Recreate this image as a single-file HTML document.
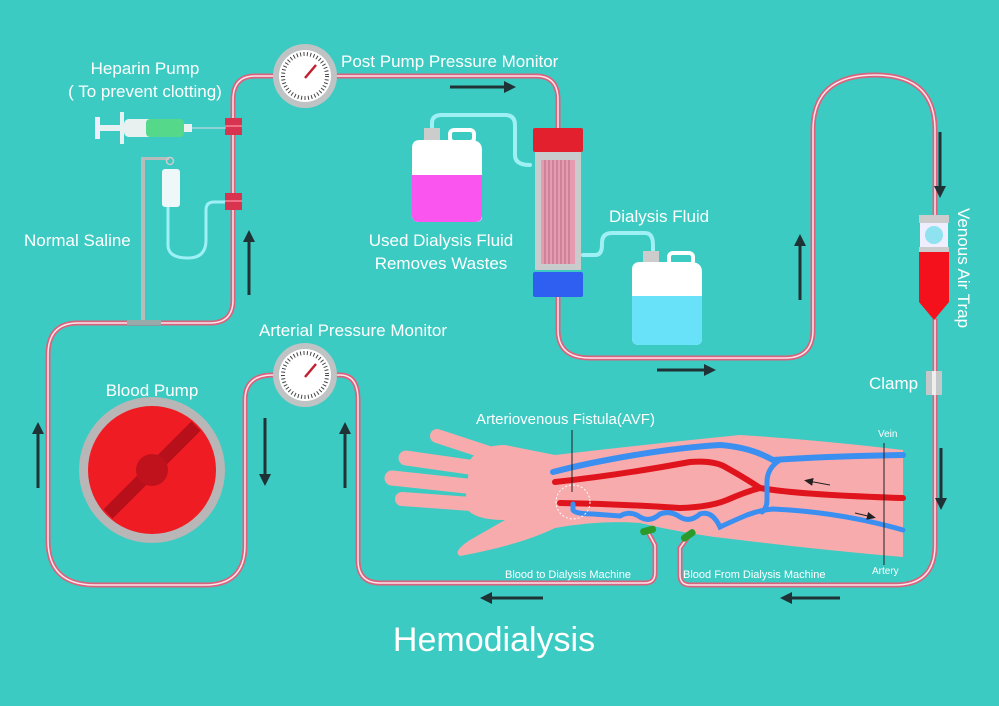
<!DOCTYPE html>
<html><head><meta charset="utf-8"><style>
body{margin:0;background:#3ccbc3;}
svg{display:block}
text{font-family:"Liberation Sans",sans-serif;fill:#fff}
</style></head><body>
<svg width="999" height="706" viewBox="0 0 999 706" xmlns="http://www.w3.org/2000/svg">
<rect width="999" height="706" fill="#3ccbc3"/>
<defs>
<marker id="ah" markerWidth="14" markerHeight="14" refX="6" refY="6" orient="auto" markerUnits="userSpaceOnUse"><path d="M0,0 L12,6 L0,12z" fill="#1f3236"/></marker>
<marker id="sa" markerWidth="10" markerHeight="10" refX="5" refY="4" orient="auto" markerUnits="userSpaceOnUse"><path d="M0,0 L9,4 L0,8z" fill="#222"/></marker>
</defs>
<!-- tubes -->
<g fill="none" stroke-linecap="round">
<g stroke="#d9637d" stroke-width="5">
<path d="M274,76 H255 Q233,76 233,100 V300 Q233,323 210,323 H78 Q48,323 48,355 V540 Q48,585 95,585 H205 Q245,585 245,545 V400 Q245,375 273,375"/>
<path d="M337,76 H536 Q558,76 558,100 V128"/>
<path d="M558,297 V330 Q558,358 590,358 H785 Q813,358 813,330 V130 Q813,75 875,75 Q935,75 935,130 V215"/>
<path d="M935,320 V545 Q935,585 895,585 H690 Q680,585 680,575 V548 L688,537"/>
<path d="M337,375 H340 Q358,375 358,400 V560 Q358,583 380,583 H645 Q655,583 655,573 V545 L649,534"/>
</g>
<g stroke="#fbe6ec" stroke-width="1.5">
<path d="M274,76 H255 Q233,76 233,100 V300 Q233,323 210,323 H78 Q48,323 48,355 V540 Q48,585 95,585 H205 Q245,585 245,545 V400 Q245,375 273,375"/>
<path d="M337,76 H536 Q558,76 558,100 V128"/>
<path d="M558,297 V330 Q558,358 590,358 H785 Q813,358 813,330 V130 Q813,75 875,75 Q935,75 935,130 V215"/>
<path d="M935,320 V545 Q935,585 895,585 H690 Q680,585 680,575 V548 L688,537"/>
<path d="M337,375 H340 Q358,375 358,400 V560 Q358,583 380,583 H645 Q655,583 655,573 V545 L649,534"/>
</g>
<path d="M432,130 V123 Q432,115 442,115 H505 Q515,115 515,125 V155 Q515,165 530,165" stroke="#9ff0f5" stroke-width="4"/>
<path d="M583,255 H595 Q602,255 602,245 V243 Q602,233 612,233 H645 Q653,233 653,245 V252" stroke="#9ff0f5" stroke-width="4"/>
<path d="M168,208 V245 Q168,258 188,258 Q206,258 206,240 V210 Q206,202 214,202 H233" stroke="#9ff0f5" stroke-width="3"/>
</g>
<rect x="225" y="118" width="17" height="17" fill="#d8344f"/><rect x="225" y="193" width="17" height="17" fill="#d8344f"/>
<rect x="225" y="125" width="17" height="2" fill="#f07088"/><rect x="225" y="200" width="17" height="2" fill="#f07088"/>
<!-- saline stand -->
<rect x="141" y="157" width="4" height="166" fill="#b8bcbc"/>
<rect x="141" y="157" width="28" height="3" fill="#b8bcbc"/>
<circle cx="170" cy="161" r="3.5" fill="none" stroke="#ccc" stroke-width="1.5"/>
<rect x="162" y="169" width="18" height="38" rx="3" fill="#eef8f8"/>
<rect x="127" y="320" width="34" height="5" fill="#9aa"/>
<!-- syringe -->
<rect x="95" y="117" width="5" height="22" fill="#eef"/>
<rect x="100" y="125" width="22" height="6" fill="#e6f2f2"/>
<rect x="120" y="112" width="4" height="32" fill="#e6f2f2"/>
<rect x="124" y="119" width="60" height="18" rx="5" fill="#e8f0f0"/>
<rect x="146" y="119" width="38" height="18" rx="4" fill="#55d88a"/>
<rect x="184" y="124" width="8" height="8" fill="#e8f0f0"/>
<line x1="192" y1="128" x2="226" y2="128" stroke="#dde" stroke-width="1"/>
<!-- gauges -->
<circle cx="305" cy="76" r="32" fill="#bfc3c3"/><circle cx="305" cy="76" r="26" fill="#fff"/>
<circle cx="305" cy="76" r="22" fill="none" stroke="#444" stroke-width="4" stroke-dasharray="1,2.4"/>
<line x1="305" y1="78" x2="316" y2="65" stroke="#c02030" stroke-width="2.5"/>
<circle cx="305" cy="375" r="32" fill="#bfc3c3"/><circle cx="305" cy="375" r="26" fill="#fff"/>
<circle cx="305" cy="375" r="22" fill="none" stroke="#444" stroke-width="4" stroke-dasharray="1,2.4"/>
<line x1="305" y1="377" x2="316" y2="364" stroke="#c02030" stroke-width="2.5"/>
<!-- dialyzer -->
<rect x="535" y="150" width="46" height="120" fill="#c8cccc"/>
<rect x="541" y="160" width="34" height="104" fill="#e59cb0"/>
<g stroke="#b86a85" stroke-width="1">
<line x1="545" y1="160" x2="545" y2="264"/><line x1="549" y1="160" x2="549" y2="264"/><line x1="553" y1="160" x2="553" y2="264"/><line x1="557" y1="160" x2="557" y2="264"/><line x1="561" y1="160" x2="561" y2="264"/><line x1="565" y1="160" x2="565" y2="264"/><line x1="569" y1="160" x2="569" y2="264"/>
</g>
<rect x="533" y="128" width="50" height="24" rx="2" fill="#e3202e"/>
<rect x="533" y="272" width="50" height="25" rx="2" fill="#2f5ff0"/>
<!-- jugs -->
<rect x="424" y="128" width="16" height="12" fill="#ccc"/>
<path d="M412,148 Q412,140 420,140 H470 Q482,140 482,150 V217 Q482,222 475,222 H419 Q412,222 412,215Z" fill="#fff"/>
<rect x="450" y="130" width="24" height="12" rx="4" fill="none" stroke="#fff" stroke-width="4"/>
<path d="M412,175 H482 V215 Q482,222 475,222 H419 Q412,222 412,215Z" fill="#fb55f0"/>
<rect x="643" y="251" width="16" height="12" fill="#ccc"/>
<path d="M632,270 Q632,262 640,262 H690 Q702,262 702,272 V339 Q702,345 695,345 H639 Q632,345 632,338Z" fill="#fff"/>
<rect x="669" y="253" width="24" height="12" rx="4" fill="none" stroke="#fff" stroke-width="4"/>
<path d="M632,296 H702 V339 Q702,345 695,345 H639 Q632,345 632,338Z" fill="#68e2f8"/>
<!-- air trap -->
<rect x="919" y="215" width="30" height="8" fill="#ccc"/>
<rect x="920" y="223" width="28" height="24" fill="#eef"/>
<circle cx="934" cy="235" r="9" fill="#8fe3f0"/>
<rect x="919" y="247" width="30" height="5" fill="#ccc"/>
<path d="M919,252 H949 V302 L934,320 L919,302Z" fill="#f5111c"/>
<rect x="926" y="371" width="16" height="24" fill="#c4c8c8"/><rect x="932" y="371" width="4" height="24" fill="#eee"/>
<!-- blood pump -->
<circle cx="152" cy="470" r="73" fill="#b8b6b6"/>
<circle cx="152" cy="470" r="64" fill="#ef1c24"/>
<line x1="108" y1="514" x2="196" y2="426" stroke="#b8101a" stroke-width="13"/>
<circle cx="152" cy="470" r="16" fill="#c0121c"/>
<!-- arm -->
<g fill="#f8abac">
<path d="M903,450 Q820,440 740,435 Q640,445 555,455 L505,445 Q480,445 470,460 L465,505 Q470,520 505,520 L470,540 Q452,552 460,556 Q520,545 555,528 Q600,520 640,523 Q690,535 740,540 Q820,550 903,557Z"/>
</g>
<g stroke="#f8abac" stroke-linecap="round" fill="none">
<line x1="437" y1="436" x2="495" y2="455" stroke-width="14"/>
<line x1="406" y1="458" x2="490" y2="470" stroke-width="15"/>
<line x1="392" y1="478" x2="485" y2="488" stroke-width="15"/>
<line x1="402" y1="499" x2="485" y2="505" stroke-width="14"/>
</g>
<g fill="none" stroke-linecap="round">
<path d="M553,472 Q580,465 607,460 Q670,448 720,445 Q750,447 773,460 Q830,456 903,455" stroke="#3b8ff0" stroke-width="6"/>
<path d="M555,482 Q620,475 690,462 Q715,460 727,468 Q745,478 760,488 Q800,495 903,498" stroke="#e0141c" stroke-width="6"/>
<path d="M560,503 Q620,504 680,508 Q710,507 727,500 Q745,492 760,488" stroke="#e0141c" stroke-width="6"/>
<path d="M780,460 Q767,468 767,482 V500 Q767,508 762,512" stroke="#3b8ff0" stroke-width="5"/>
<path d="M573,504 V510 Q575,514 593,514 L620,516 Q630,510 640,517 Q650,523 660,514 Q670,510 680,517 Q690,523 700,514 Q712,510 720,527 Q735,520 747,515 Q760,510 773,509 Q840,512 903,530" stroke="#3b8ff0" stroke-width="5"/>
</g>
<circle cx="573" cy="502" r="17" fill="none" stroke="#fff" stroke-width="1" stroke-dasharray="2,2"/>
<line x1="572" y1="430" x2="572" y2="492" stroke="#222" stroke-width="1"/>
<line x1="884" y1="443" x2="884" y2="565" stroke="#222" stroke-width="1"/>
<rect x="640" y="527" width="16" height="7" rx="3" fill="#2a9a2a" transform="rotate(-15 648 530)"/>
<rect x="680" y="532" width="16" height="7" rx="3" fill="#2a9a2a" transform="rotate(-35 688 535)"/>
<line x1="830" y1="485" x2="808" y2="481" stroke="#222" stroke-width="1" marker-end="url(#sa)"/>
<line x1="855" y1="513" x2="872" y2="517" stroke="#222" stroke-width="1" marker-end="url(#sa)"/>
<!-- arrows -->
<g stroke="#1f3236" stroke-width="3" marker-end="url(#ah)">
<line x1="450" y1="87" x2="510" y2="87"/>
<line x1="249" y1="295" x2="249" y2="236"/>
<line x1="940" y1="132" x2="940" y2="192"/>
<line x1="800" y1="300" x2="800" y2="240"/>
<line x1="657" y1="370" x2="710" y2="370"/>
<line x1="265" y1="418" x2="265" y2="480"/>
<line x1="345" y1="488" x2="345" y2="428"/>
<line x1="38" y1="488" x2="38" y2="428"/>
<line x1="941" y1="448" x2="941" y2="504"/>
<line x1="543" y1="598" x2="486" y2="598"/>
<line x1="840" y1="598" x2="786" y2="598"/>
</g>
<!-- labels -->
<text x="145" y="74" font-size="17" text-anchor="middle">Heparin Pump</text>
<text x="145" y="97" font-size="17" text-anchor="middle">( To prevent clotting)</text>
<text x="341" y="67" font-size="17">Post Pump Pressure Monitor</text>
<text x="24" y="246" font-size="17">Normal Saline</text>
<text x="441" y="246" font-size="17" text-anchor="middle">Used Dialysis Fluid</text>
<text x="441" y="269" font-size="17" text-anchor="middle">Removes Wastes</text>
<text x="609" y="222" font-size="17">Dialysis Fluid</text>
<text x="259" y="336" font-size="17">Arterial Pressure Monitor</text>
<text x="152" y="396" font-size="17" text-anchor="middle">Blood Pump</text>
<text x="869" y="389" font-size="17">Clamp</text>
<text x="0" y="0" font-size="17" transform="translate(958,208) rotate(90)">Venous Air Trap</text>
<text x="476" y="424" font-size="15">Arteriovenous Fistula(AVF)</text>
<text x="878" y="437" font-size="10">Vein</text>
<text x="872" y="574" font-size="10">Artery</text>
<text x="505" y="578" font-size="11">Blood to Dialysis Machine</text>
<text x="683" y="578" font-size="11">Blood From Dialysis Machine</text>
<text x="494" y="651" font-size="34" text-anchor="middle">Hemodialysis</text>
</svg>
</body></html>
